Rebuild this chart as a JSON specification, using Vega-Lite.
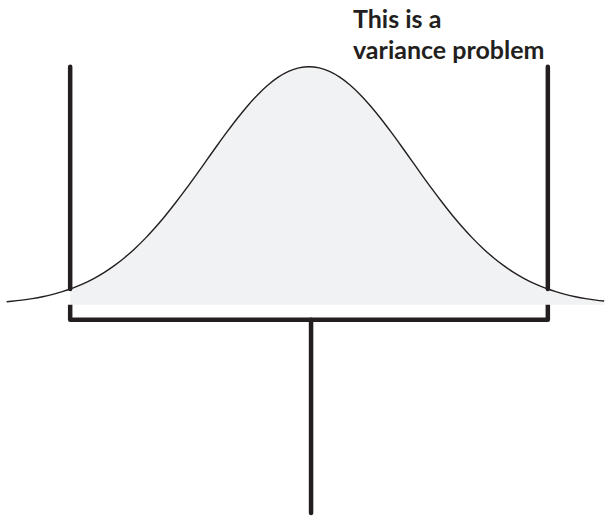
{
  "$schema": "https://vega.github.io/schema/vega-lite/v6.json",
  "width": 608,
  "height": 516,
  "autosize": {"type": "fit", "contains": "padding"},
  "padding": 0,
  "background": "white",
  "config": {"view": {"stroke": null}},
  "datasets": {
    "curve": [
      {"z": -2.95, "d": 0.0129}, {"z": -2.9, "d": 0.0149}, {"z": -2.8, "d": 0.0198}, {"z": -2.7, "d": 0.0261},
      {"z": -2.6, "d": 0.0340}, {"z": -2.5, "d": 0.0439}, {"z": -2.4, "d": 0.0561}, {"z": -2.33, "d": 0.0663},
      {"z": -2.3, "d": 0.0710}, {"z": -2.2, "d": 0.0889}, {"z": -2.1, "d": 0.1103}, {"z": -2.0, "d": 0.1353},
      {"z": -1.9, "d": 0.1645}, {"z": -1.8, "d": 0.1979}, {"z": -1.7, "d": 0.2357}, {"z": -1.6, "d": 0.2780},
      {"z": -1.5, "d": 0.3247}, {"z": -1.4, "d": 0.3753}, {"z": -1.3, "d": 0.4296}, {"z": -1.2, "d": 0.4868},
      {"z": -1.1, "d": 0.5461}, {"z": -1.0, "d": 0.6065}, {"z": -0.9, "d": 0.6670}, {"z": -0.8, "d": 0.7261},
      {"z": -0.7, "d": 0.7827}, {"z": -0.6, "d": 0.8353}, {"z": -0.5, "d": 0.8825}, {"z": -0.4, "d": 0.9231},
      {"z": -0.3, "d": 0.9560}, {"z": -0.2, "d": 0.9802}, {"z": -0.1, "d": 0.9950}, {"z": 0, "d": 1.0},
      {"z": 0.1, "d": 0.9950}, {"z": 0.2, "d": 0.9802}, {"z": 0.3, "d": 0.9560}, {"z": 0.4, "d": 0.9231},
      {"z": 0.5, "d": 0.8825}, {"z": 0.6, "d": 0.8353}, {"z": 0.7, "d": 0.7827}, {"z": 0.8, "d": 0.7261},
      {"z": 0.9, "d": 0.6670}, {"z": 1.0, "d": 0.6065}, {"z": 1.1, "d": 0.5461}, {"z": 1.2, "d": 0.4868},
      {"z": 1.3, "d": 0.4296}, {"z": 1.4, "d": 0.3753}, {"z": 1.5, "d": 0.3247}, {"z": 1.6, "d": 0.2780},
      {"z": 1.7, "d": 0.2357}, {"z": 1.8, "d": 0.1979}, {"z": 1.9, "d": 0.1645}, {"z": 2.0, "d": 0.1353},
      {"z": 2.1, "d": 0.1103}, {"z": 2.2, "d": 0.0889}, {"z": 2.3, "d": 0.0710}, {"z": 2.33, "d": 0.0663},
      {"z": 2.4, "d": 0.0561}, {"z": 2.5, "d": 0.0439}, {"z": 2.6, "d": 0.0340}, {"z": 2.7, "d": 0.0261},
      {"z": 2.8, "d": 0.0198}, {"z": 2.88, "d": 0.0158}
    ],
    "rules": [
      {"z": -2.33, "d": 1.0, "d2": 0.0663},
      {"z": 2.33, "d": 1.0, "d2": 0.0663},
      {"z": 0.02, "d": -0.063, "d2": -0.874}
    ],
    "bracket": [
      {"o": 1, "z": -2.33, "d": 0},
      {"o": 2, "z": -2.33, "d": -0.063},
      {"o": 3, "z": 2.33, "d": -0.063},
      {"o": 4, "z": 2.33, "d": 0}
    ],
    "labels": [
      {"z": 0.429, "d": 1.163, "label": "This is a"},
      {"z": 0.429, "d": 1.0335, "label": "variance problem"}
    ]
  },
  "layer": [
    {
      "data": {"name": "curve"},
      "transform": [{"filter": "datum.z >= -2.33"}],
      "mark": {"type": "area", "color": "#f1f2f3", "interpolate": "monotone"},
      "encoding": {
        "x": {"field": "z", "type": "quantitative", "scale": {"domain": [-3.0146, 2.917], "nice": false, "zero": false}, "axis": null},
        "y": {"field": "d", "type": "quantitative", "scale": {"domain": [-0.8787, 1.2803], "nice": false, "zero": false}, "axis": null},
        "y2": {"datum": 0}
      }
    },
    {
      "data": {"name": "curve"},
      "mark": {"type": "line", "color": "#231f20", "strokeWidth": 1.4, "interpolate": "monotone"},
      "encoding": {
        "x": {"field": "z", "type": "quantitative"},
        "y": {"field": "d", "type": "quantitative"}
      }
    },
    {
      "data": {"name": "rules"},
      "mark": {"type": "rule", "color": "#231f20", "strokeWidth": 4.5, "strokeCap": "round"},
      "encoding": {
        "x": {"field": "z", "type": "quantitative"},
        "y": {"field": "d", "type": "quantitative"},
        "y2": {"field": "d2"}
      }
    },
    {
      "data": {"name": "bracket"},
      "mark": {"type": "line", "color": "#231f20", "strokeWidth": 4.5, "strokeJoin": "round", "strokeCap": "butt"},
      "encoding": {
        "x": {"field": "z", "type": "quantitative"},
        "y": {"field": "d", "type": "quantitative"},
        "order": {"field": "o"}
      }
    },
    {
      "data": {"name": "labels"},
      "mark": {"type": "text", "align": "left", "baseline": "alphabetic", "font": "Lato", "fontWeight": "bold", "fontSize": 25, "color": "#231f20"},
      "encoding": {
        "x": {"field": "z", "type": "quantitative"},
        "y": {"field": "d", "type": "quantitative"},
        "text": {"field": "label"}
      }
    }
  ]
}
